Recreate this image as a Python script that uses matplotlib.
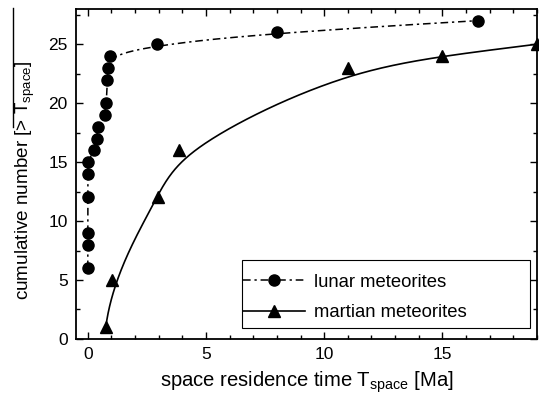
import numpy as np
import matplotlib
matplotlib.use("Agg")
import matplotlib.pyplot as plt
from matplotlib.lines import Line2D
from matplotlib.patches import Rectangle
from matplotlib.ticker import MultipleLocator

plt.rcParams['font.family'] = ['Liberation Sans', 'DejaVu Sans']
plt.rcParams['mathtext.fontset'] = 'custom'
plt.rcParams['mathtext.rm'] = 'Liberation Sans'
plt.rcParams['mathtext.it'] = 'Liberation Sans'

# Data
lunar_x = [0, 0, 0, 0, 0, 0, 0.25, 0.37, 0.42, 0.71, 0.79, 0.82, 0.86, 0.92, 2.94, 8.0, 16.5]
lunar_y = [6, 8, 9, 12, 14, 15, 16, 17, 18, 19, 20, 22, 23, 24, 25, 26, 27]
martian_x = [0.76, 1.02, 2.97, 3.86, 11.0, 15.0, 19.0]
martian_y = [1, 5, 12, 16, 23, 24, 25]
x_ticks = [0, 5, 10, 15]
y_ticks = [0, 5, 10, 15, 20, 25]


def bspline(xs, ys, n=400, k=3):
    P = np.column_stack([xs, ys]).astype(float)
    m = len(P)
    inner = np.arange(1, m - k)
    t = np.concatenate([np.zeros(k + 1), inner, np.full(k + 1, m - k)]).astype(float)
    u = np.linspace(0, m - k, n)
    u[-1] -= 1e-9

    def N(i, kk, uu):
        if kk == 0:
            return np.where((t[i] <= uu) & (uu < t[i + 1]), 1.0, 0.0)
        a = np.zeros_like(uu)
        b = np.zeros_like(uu)
        if t[i + kk] != t[i]:
            a = (uu - t[i]) / (t[i + kk] - t[i]) * N(i, kk - 1, uu)
        if t[i + kk + 1] != t[i + 1]:
            b = (t[i + kk + 1] - uu) / (t[i + kk + 1] - t[i + 1]) * N(i + 1, kk - 1, uu)
        return a + b

    B = np.column_stack([N(i, k, u) for i in range(m)])
    C = B @ P
    return C[:, 0], C[:, 1]


fig = plt.figure(figsize=(5.39, 4.03), dpi=100)
ax = fig.add_axes([0.141, 0.159, 0.855, 0.819])

dashdot = (0, (5, 2.5, 1.5, 2.5))
lx, ly = bspline(lunar_x, lunar_y)
mx, my = bspline(martian_x, martian_y)
ax.plot(lx, ly, color='black', lw=1.1, linestyle=dashdot)
ax.plot(lunar_x, lunar_y, 'o', color='black', ms=8, clip_on=False)
ax.plot(mx, my, color='black', lw=1.2)
ax.plot(martian_x, martian_y, '^', color='black', ms=9, clip_on=False)

ax.set_xlim(-0.5, 19)
ax.set_ylim(0, 28)
ax.set_xticks(x_ticks)
ax.set_yticks(y_ticks)
ax.xaxis.set_minor_locator(MultipleLocator(1))
ax.yaxis.set_minor_locator(MultipleLocator(2.5))
ax.tick_params(which='both', direction='in', top=True, right=True, labelsize=12.5, width=1.0)
ax.tick_params(which='major', length=5, pad=6)
ax.tick_params(which='minor', length=3)
for s in ax.spines.values():
    s.set_linewidth(1.3)

ax.set_xlabel(r'space residence time T$_{\mathregular{space}}$ [Ma]', fontsize=14.6, labelpad=5)
ax.set_ylabel(r'cumulative number [> T$_{\mathregular{space}}$]', fontsize=13.6)
ax.yaxis.set_label_coords(-0.085, 0.482)

handles = [
    Line2D([], [], color='black', lw=1.1, linestyle=dashdot, marker='o', ms=8),
    Line2D([], [], color='black', lw=1.2, marker='^', ms=9),
]
leg = ax.legend(handles, ['lunar meteorites', 'martian meteorites'],
                loc='upper left', bbox_to_anchor=(0.362, 0.197), fontsize=13.3,
                frameon=False, handlelength=3.35, handletextpad=0.5,
                borderpad=0, labelspacing=0.72, borderaxespad=0)

# legend frame
ax.add_patch(Rectangle((0.360, 0.033), 0.625, 0.206, transform=ax.transAxes,
                       fill=False, edgecolor='black', lw=0.8, zorder=5))

# overline above the y label
fig.add_artist(Line2D([13 / 539, 13 / 539], [1 - 8 / 403, 1 - 127 / 403],
                      transform=fig.transFigure, color='black', lw=1.0))

fig.savefig('out.png', dpi=100)
